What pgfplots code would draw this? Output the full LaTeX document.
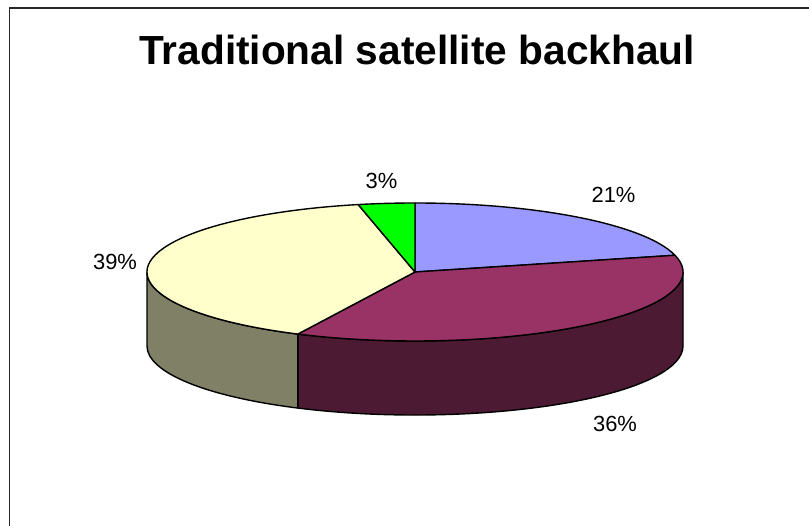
\documentclass[border=0pt]{standalone}
\usepackage{pgfplots}
\usepackage{pgfplotstable}
\pgfplotsset{compat=1.18}
\usepackage{fontspec}
\setmainfont{Liberation Sans}

\definecolor{blueT}{HTML}{9999FF}
\definecolor{purpleT}{HTML}{993366}
\definecolor{yellowT}{HTML}{FFFFCC}
\definecolor{greenT}{HTML}{00FF00}
\definecolor{purpleS}{RGB}{77,26,51}
\definecolor{yellowS}{RGB}{128,128,102}

% share of each slice (percent), clockwise from 12 o'clock
\pgfplotstableread{
share label
21.1 21\%
36.1 36\%
39.4 39\%
3.4  3\%
}\piedata

\newcommand\getshare[2]{\pgfplotstablegetelem{#1}{share}\of\piedata\global\let#2\pgfplotsretval}

\def\cx{415}\def\cy{254}
\def\ra{268bp}\def\rb{69bp}\def\dep{74bp}

% top face of a slice: #1 start angle, #2 end angle, #3 colour
\newcommand\topface[3]{%
  \filldraw[fill=#3, draw=black, line width=1.4bp, line join=round]
    (axis cs:\cx,\cy) -- ++(#1:\ra\space and \rb)
    arc[start angle=#1, end angle=#2, x radius=\ra, y radius=\rb] -- cycle;}
% visible outer side of a slice: #1 high angle, #2 low angle, #3 colour
\newcommand\sideface[3]{%
  \filldraw[fill=#3, draw=black, line width=1.4bp, line join=round]
    (axis cs:\cx,\cy) ++(#1:\ra\space and \rb)
    arc[start angle=#1, end angle=#2, x radius=\ra, y radius=\rb]
    -- ++(0,-\dep)
    arc[start angle=#2, end angle=#1, x radius=\ra, y radius=\rb] -- cycle;}

\begin{document}
\begin{tikzpicture}
\getshare{0}\vA \getshare{1}\vB \getshare{2}\vC \getshare{3}\vD
\pgfmathsetmacro\sA{90}
\pgfmathsetmacro\eA{\sA-3.6*\vA}
\pgfmathsetmacro\sB{\eA}
\pgfmathsetmacro\eB{\sB-3.6*\vB}
\pgfmathsetmacro\sC{\eB}
\pgfmathsetmacro\eC{\sC-3.6*\vC}
\pgfmathsetmacro\sD{\eC}
\pgfmathsetmacro\eD{\sD-3.6*\vD}
% visible part of the cylinder wall: angles between -180 and 0
\pgfmathsetmacro\loB{max(\eB,-180)}
\pgfmathsetmacro\hiB{min(\sB,0)}
\pgfmathsetmacro\loC{max(\eC,-180)}
\pgfmathsetmacro\hiC{min(\sC,0)}
\pgfmathtruncatemacro\visB{\loB<\hiB ? 1 : 0}
\pgfmathtruncatemacro\visC{\loC<\hiC ? 1 : 0}
\begin{axis}[
  hide axis, scale only axis,
  xtick=\empty, ytick=\empty,
  width=809bp, height=526bp,
  xmin=0, xmax=809, ymin=0, ymax=526,
  clip=true,
]
\coordinate (SW) at (axis cs:0,0);
\coordinate (NE) at (axis cs:809,526);
% chart frame (continues past the right and bottom edges)
\draw[line width=1.4bp, black!85] (axis cs:9.5,0) -- (axis cs:9.5,518) -- (axis cs:809,518);
% walls
\ifnum\visB=1 \sideface{\hiB}{\loB}{purpleS}\fi
\ifnum\visC=1 \sideface{\hiC}{\loC}{yellowS}\fi
% top faces
\topface{\sA}{\eA}{blueT}
\topface{\sB}{\eB}{purpleT}
\topface{\sC}{\eC}{yellowT}
\topface{\sD}{\eD}{greenT}
% labels
\node[font=\fontsize{22}{26}\selectfont] at (axis cs:613.5,331) {21\%};
\node[font=\fontsize{22}{26}\selectfont] at (axis cs:615,102) {36\%};
\node[font=\fontsize{22}{26}\selectfont] at (axis cs:115,264) {39\%};
\node[font=\fontsize{22}{26}\selectfont] at (axis cs:381.5,345) {3\%};
% title
\node[anchor=base, font=\fontsize{40.8}{48}\selectfont\bfseries] at (axis cs:417,461) {Traditional satellite backhaul};
\end{axis}
\pgfresetboundingbox
\path[use as bounding box] (SW) rectangle (NE);
\end{tikzpicture}
\end{document}
